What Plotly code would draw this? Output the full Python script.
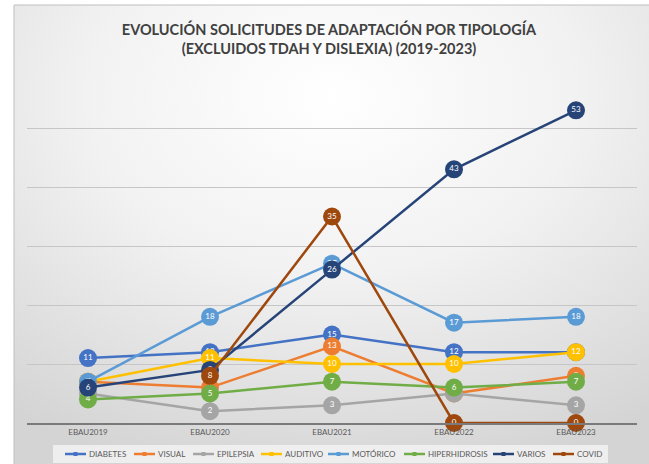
import base64
import plotly.graph_objects as go

# Convocatorias y número de solicitudes por tipología
convocatorias = ["EBAU2019", "EBAU2020", "EBAU2021", "EBAU2022", "EBAU2023"]

diabetes = [11, 12, 15, 12, 12]
visual = [7, 6, 13, 5, 8]
epilepsia = [5, 2, 3, 5, 3]
auditivo = [7, 11, 10, 10, 12]
motorico = [7, 18, 27, 17, 18]
hiperhidrosis = [4, 5, 7, 6, 7]
varios = [6, 9, 26, 43, 53]
covid = [None, 8, 35, 0, 0]

series = [
    ("DIABETES", diabetes, "#4472C4"),
    ("VISUAL", visual, "#ED7D31"),
    ("EPILEPSIA", epilepsia, "#A5A5A5"),
    ("AUDITIVO", auditivo, "#FFC000"),
    ("MOTÓRICO", motorico, "#5B9BD5"),
    ("HIPERHIDROSIS", hiperhidrosis, "#70AD47"),
    ("VARIOS", varios, "#264478"),
    ("COVID", covid, "#9E480E"),
]

W, H = 649, 464
FONT = "Lato"


def px(x):
    return x / W


def py(y):
    return 1 - y / H


fig = go.Figure()

for name, vals, color in series:
    fig.add_trace(go.Scatter(
        x=convocatorias, y=vals, name=name,
        mode="lines+markers+text",
        line=dict(color=color, width=2.5),
        marker=dict(color=color, size=18, line=dict(width=0)),
        text=["" if v is None else str(v) for v in vals],
        textposition="middle center",
        textfont=dict(family=FONT, size=8, color="white"),
        showlegend=False, cliponaxis=False, hoverinfo="skip",
    ))

# Fondo degradado radial del área del gráfico
svg = (
    "<svg xmlns='http://www.w3.org/2000/svg' width='635' height='460' preserveAspectRatio='none'>"
    "<defs><radialGradient id='g' cx='0.5' cy='0.2' r='0.85'>"
    "<stop offset='0' stop-color='#ffffff'/>"
    "<stop offset='0.45' stop-color='#f2f2f2'/>"
    "<stop offset='1' stop-color='#d4d4d4'/>"
    "</radialGradient></defs>"
    "<rect width='100%' height='100%' fill='url(#g)'/></svg>"
)
bg_src = "data:image/svg+xml;base64," + base64.b64encode(svg.encode()).decode()

shapes = [
    dict(type="rect", xref="paper", yref="paper", x0=px(14), x1=px(660),
         y0=py(470), y1=py(5), line=dict(color="#bfbfbf", width=1),
         fillcolor="rgba(0,0,0,0)", layer="below"),
    # caja de la leyenda
    dict(type="rect", xref="paper", yref="paper", x0=px(53), x1=px(608),
         y0=py(463), y1=py(445), line=dict(width=0),
         fillcolor="rgba(242,242,242,0.85)", layer="below"),
]
annotations = []

# Leyenda dibujada a mano en una sola fila
legend_x = [65, 134, 193, 261, 328, 404, 493, 553]
ly = 454
for (name, _, color), lx in zip(series, legend_x):
    shapes.append(dict(type="line", xref="paper", yref="paper",
                       x0=px(lx), x1=px(lx + 21), y0=py(ly), y1=py(ly),
                       line=dict(color=color, width=2.5)))
    shapes.append(dict(type="rect", xref="paper", yref="paper",
                       x0=px(lx + 8.5), x1=px(lx + 12.5), y0=py(ly + 2), y1=py(ly - 2),
                       line=dict(width=0), fillcolor=color))
    annotations.append(dict(text=name, xref="paper", yref="paper",
                            x=px(lx + 22), y=py(ly), xanchor="left", yanchor="middle",
                            showarrow=False,
                            font=dict(family=FONT, size=8, color="#595959")))

fig.update_layout(
    width=W, height=H,
    margin=dict(l=0, r=0, t=0, b=0, autoexpand=False),
    paper_bgcolor="white",
    plot_bgcolor="rgba(0,0,0,0)",
    showlegend=False,
    images=[dict(source=bg_src, xref="paper", yref="paper", x=px(14), y=py(5),
                 sizex=px(649 - 14), sizey=1 - 5 / H, sizing="stretch",
                 xanchor="left", yanchor="top", layer="below")],
    shapes=shapes,
    annotations=annotations,
    title=dict(
        text="EVOLUCIÓN SOLICITUDES DE ADAPTACIÓN POR TIPOLOGÍA<br>(EXCLUIDOS TDAH Y DISLEXIA) (2019-2023)",
        x=px(329), xanchor="center", y=py(35), yanchor="middle",
        font=dict(family=FONT, size=14.5, color="#404040", weight="bold"),
    ),
    xaxis=dict(
        domain=[px(27), px(637)], type="category", range=[-0.5, 4.5],
        showgrid=False, zeroline=False, showline=True,
        linecolor="#7a7a7a", linewidth=2, ticks="",
        tickfont=dict(family=FONT, size=8, color="#595959"),
    ),
    yaxis=dict(
        domain=[(H - 423) / H, (H - 69) / H], range=[0, 60], dtick=10,
        showticklabels=False, showgrid=True, gridcolor="#c6c6c6", gridwidth=1,
        zeroline=False, showline=False,
    ),
)

fig.write_html("out.html")
